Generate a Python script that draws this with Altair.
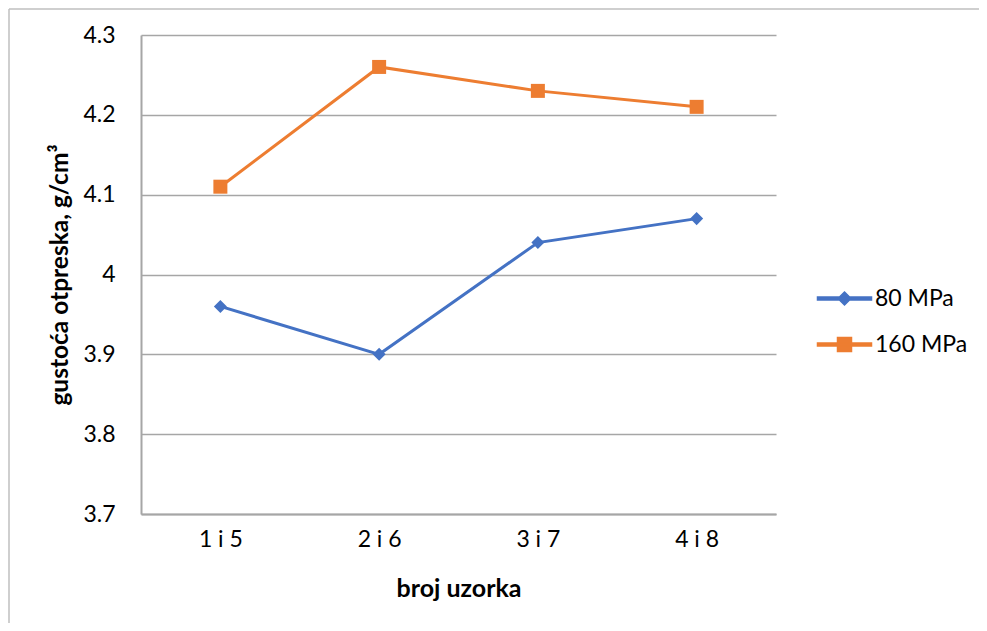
import altair as alt
import pandas as pd

categories = ["1 i 5", "2 i 6", "3 i 7", "4 i 8"]
series_names = ["80 MPa", "160 MPa"]
values_80 = [3.96, 3.90, 4.04, 4.07]
values_160 = [4.11, 4.26, 4.23, 4.21]
colors = ["#4472C4", "#ED7D31"]
y_ticks = [3.7, 3.8, 3.9, 4.0, 4.1, 4.2, 4.3]

rows = []
for c, v in zip(categories, values_80):
    rows.append({"uzorak": c, "serija": series_names[0], "gustoca": v})
for c, v in zip(categories, values_160):
    rows.append({"uzorak": c, "serija": series_names[1], "gustoca": v})
df = pd.DataFrame(rows)

FONT = "Lato"

x_enc = alt.X("uzorak:N", sort=categories,
              scale=alt.Scale(type="point", padding=0.5, domain=categories),
              axis=alt.Axis(title="broj uzorka", labelAngle=0, ticks=False,
                            domainColor="#A6A6A6", domainWidth=2,
                            labelFontSize=23, labelPadding=14, labelColor="#000000",
                            titleFontSize=25, titleFontWeight="bold", titlePadding=25,
                            titleColor="#000000", grid=False))
y_enc = alt.Y("gustoca:Q",
              scale=alt.Scale(domain=[3.7, 4.3], nice=False, zero=False),
              axis=alt.Axis(title="gustoća otpreska, g/cm³", values=y_ticks, format=".1~f",
                            ticks=False, domainColor="#A6A6A6", domainWidth=2,
                            gridColor="#A6A6A6", gridWidth=1.6,
                            labelFontSize=23, labelPadding=26, labelColor="#000000",
                            titleFontSize=24.5, titleFontWeight="bold", titlePadding=10,
                            titleColor="#000000"))
color_scale = alt.Scale(domain=series_names, range=colors)

path_diamond = "M-2.7,-0.14H2.7V0.14H-2.7ZM0,-0.65L0.65,0L0,0.65L-0.65,0Z"
path_square = "M-2.7,-0.14H2.7V0.14H-2.7ZM-0.7,-0.7H0.7V0.7H-0.7Z"

legend_props = dict(title=None, orient="none", legendX=692, legendY=252,
                    symbolSize=400, labelFontSize=23, labelColor="#000000",
                    labelOffset=19, rowPadding=22, padding=0)

base = alt.Chart(df)

# legend-only layer (first, so its legend settings win); points are outside the range and clipped
legend_df = pd.DataFrame({"uzorak": [categories[0], categories[0]],
                          "serija": series_names, "gustoca": [3.0, 3.0]})
legend_layer = alt.Chart(legend_df).mark_point(filled=True, opacity=1, clip=True).encode(
    x=x_enc, y=y_enc,
    color=alt.Color("serija:N", scale=color_scale, legend=alt.Legend(**legend_props)),
    shape=alt.Shape("serija:N", scale=alt.Scale(domain=series_names,
                                                range=[path_diamond, path_square]),
                    legend=alt.Legend(**legend_props)),
)

lines = base.mark_line(strokeWidth=3).encode(
    x=x_enc, y=y_enc,
    color=alt.Color("serija:N", scale=color_scale),
    detail="serija:N",
)

pts_80 = base.transform_filter(alt.datum.serija == series_names[0]).mark_point(
    shape="diamond", filled=True, size=170, opacity=1).encode(
    x=x_enc, y=y_enc,
    color=alt.Color("serija:N", scale=color_scale))

pts_160 = base.transform_filter(alt.datum.serija == series_names[1]).mark_point(
    shape="square", filled=True, size=196, opacity=1).encode(
    x=x_enc, y=y_enc,
    color=alt.Color("serija:N", scale=color_scale))

border_df = pd.DataFrame({"k": [0]})
border_top = alt.Chart(border_df).mark_rule(color="#BFBFBF", strokeWidth=1.5).encode(
    x=alt.value(-132), x2=alt.value(900), y=alt.value(-26))
border_left = alt.Chart(border_df).mark_rule(color="#BFBFBF", strokeWidth=1.5).encode(
    x=alt.value(-132), y=alt.value(-26), y2=alt.value(600))

chart = alt.layer(legend_layer, border_top, border_left, lines, pts_80, pts_160).properties(
    width=635, height=479,
    autosize=alt.AutoSizeParams(type="none"),
    padding={"left": 133, "top": 27, "right": 203, "bottom": 109},
).configure(font=FONT).configure_view(stroke=None).configure_legend(labelFont=FONT)

chart.save("out.html", embed_options={"renderer": "svg", "actions": False})
